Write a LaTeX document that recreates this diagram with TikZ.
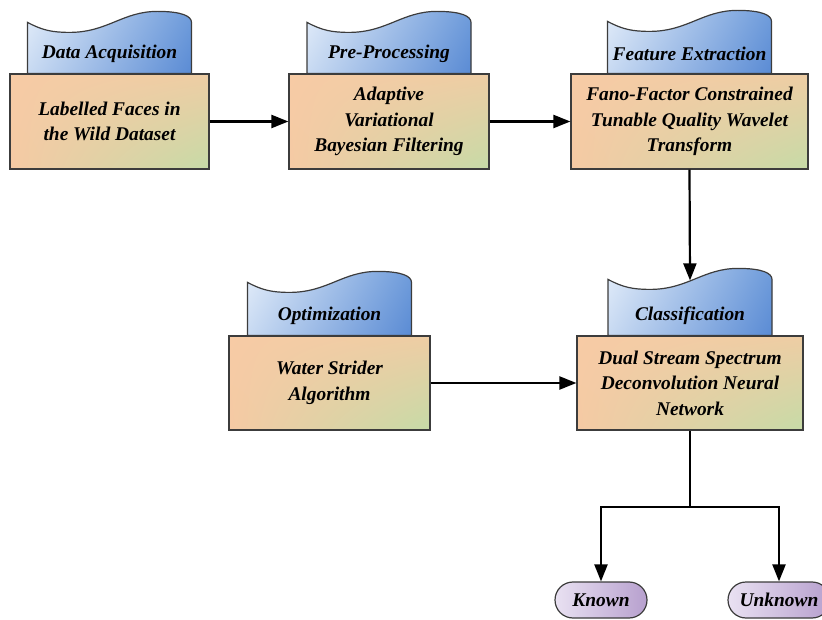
\documentclass[tikz,border=0pt]{standalone}
\usepackage{fontspec}
\setmainfont{Liberation Serif}
\usetikzlibrary{calc,arrows.meta,shadings}
\definecolor{bordc}{HTML}{3C3C3C}
\definecolor{peachA}{HTML}{F7CBA5}
\definecolor{peachB}{HTML}{EECDA4}
\definecolor{peachC}{HTML}{F5CAA4}
\definecolor{greenD}{HTML}{C6DBA7}
\definecolor{blueA}{HTML}{E2ECF9}
\definecolor{blueB}{HTML}{6F9CDB}
\definecolor{blueC}{HTML}{C8DAF2}
\definecolor{blueD}{HTML}{5A8BD4}
\definecolor{lavA}{HTML}{E9E1F2}
\definecolor{lavB}{HTML}{B7A0CE}
\newcommand\wavetab[4]{%
  \path[tabshape] ($(#1.north)+(-82,0)$) -- ($(#1.north)+(-82,#2)$)
    .. controls ($(#1.north)+(-67,#2-8)$) and ($(#1.north)+(-57,#2-10)$) .. ($(#1.north)+(-40,#2-10)$)
    .. controls ($(#1.north)+(-2,#2-10)$) and ($(#1.north)+(13,#2+11)$) .. ($(#1.north)+(48,#2+11)$)
    .. controls ($(#1.north)+(73,#2+11)$) and ($(#1.north)+(82,#2+6)$) .. ($(#1.north)+(82,#2)$)
    -- ($(#1.north)+(82,0)$) -- cycle;
  \node[tabtext] (#4) at ($(#1.north)+(0,20)$) {#3};
}
\begin{document}
\begin{tikzpicture}[x=1pt,y=1pt,
  mainfont/.style={font=\bfseries\itshape\fontsize{19.4}{25.5}\selectfont},
  box/.style={mainfont, draw=bordc, line width=1.2pt, inner sep=0pt, align=center,
    upper left=peachA, upper right=peachB, lower left=peachC, lower right=greenD},
  tabshape/.style={draw=bordc, line width=1.2pt,
    upper left=blueA, upper right=blueB, lower left=blueC, lower right=blueD},
  tabtext/.style={mainfont, inner sep=0pt},
  oval/.style={mainfont, draw=bordc, line width=1.2pt, rounded corners=18pt,
    minimum height=36pt, inner sep=0pt, left color=lavA, right color=lavB},
  arr/.style={-{Triangle[length=17pt,width=13pt]}, line width=2.2pt, draw=black},
  conn/.style={line width=2.2pt, draw=black}
]
\useasboundingbox (0,0) rectangle (822,619);

\node[box, minimum width=199pt, minimum height=95pt] (b1) at (109.5,497.5) {Labelled Faces in\\the Wild Dataset};
\node[box, minimum width=200pt, minimum height=95pt] (b2) at (389,497.5) {Adaptive\\Variational\\Bayesian Filtering};
\node[box, minimum width=237pt, minimum height=95pt] (b3) at (689.5,497.5) {Fano-Factor Constrained\\Tunable Quality Wavelet\\Transform};
\node[box, minimum width=201pt, minimum height=94pt] (b4) at (329.5,236) {Water Strider\\Algorithm};
\node[box, minimum width=226pt, minimum height=94pt] (b5) at (690,236) {Dual Stream Spectrum\\Deconvolution Neural\\Network};

\wavetab{b1}{51}{Data Acquisition}{t1}
\wavetab{b2}{51}{Pre-Processing}{t2}
\wavetab{b3}{52}{Feature Extraction}{t3}
\wavetab{b4}{53}{Optimization}{t4}
\wavetab{b5}{56}{Classification}{t5}

\node[oval, minimum width=92pt] (known) at (601,19) {Known};
\node[oval, minimum width=102pt] (unknown) at (779,19) {Unknown};

\coordinate (c5in) at ($(b5.north)+(0,55)$);
\coordinate (split) at (690,112);

\draw[arr] (b1.east) -- (b2.west);
\draw[arr] (b2.east) -- (b3.west);
\draw[arr] (b3.south) -- (c5in);
\draw[arr] (b4.east) -- (b5.west);
\draw[conn] (b5.south) -- (split);
\draw[arr] (split) -| (known.north);
\draw[arr] (split) -| (unknown.north);
\end{tikzpicture}
\end{document}
